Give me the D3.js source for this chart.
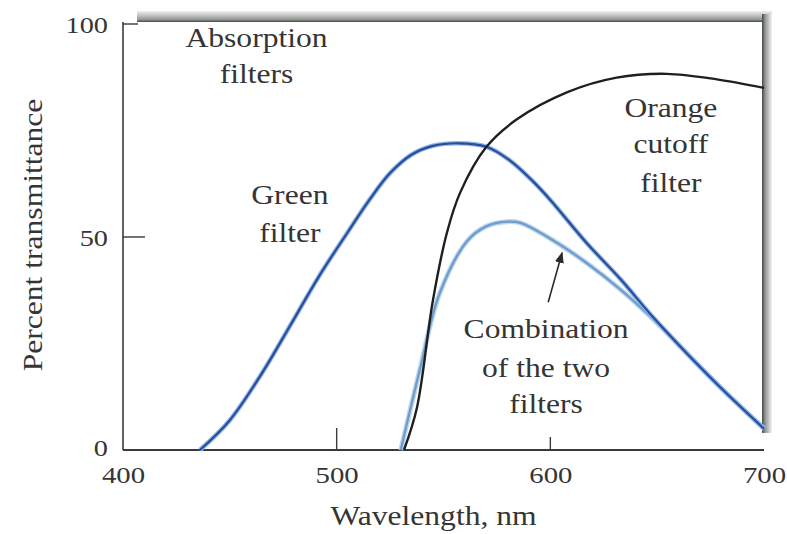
<!DOCTYPE html>
<html>
<head>
<meta charset="utf-8">
<script src="https://cdn.jsdelivr.net/npm/d3@7"></script>
<style>
  html, body { margin: 0; padding: 0; background: #fff; }
  svg { display: block; }
  text { font-family: "Liberation Serif", "Times New Roman", serif; fill: #353535; }
</style>
</head>
<body>
<svg id="chart" width="787" height="534"></svg>
<script>
// ---- data ----
const greenWavelength = [436, 450, 465, 478, 492, 505, 515, 525, 535, 545, 557, 570, 581, 592, 600, 617, 633, 648, 661, 680, 700];
const greenT          = [0,   7,   18,  29,  41,  51,  58.5,65,  69.3,71.4,72,  71.2,68,  63,  58.7,48.6,40,  31.2,24.2,14.5,5];

const orangeWavelength = [531.5, 537.6, 545, 551.6, 557.7, 570, 584, 608, 631, 654.5, 678, 700];
const orangeT          = [0,     10,    35,  51,    60.3,  71.1,77.5,84,  87.4, 88.3, 87, 85];

const comboWavelength = [530, 539, 548, 561, 570, 580, 586, 601, 617, 633, 645, 652, 661, 680, 700];
const comboT          = [0,   19,  36.5,49,  52.5,53.6,53.3,49.3,43.9,37.6,32.2,28.8,24.2,14.5,5];

const xTickValues = [400, 500, 600, 700];
const yTickValues = [0, 50, 100];
const xLabel = "Wavelength, nm";
const yLabel = "Percent transmittance";

// annotation texts, anchored in data units
const annotations = [
  { lines: ["Absorption", "filters"], wl: 462.5, t: [94.6, 86.2] },
  { lines: ["Green", "filter"], wl: 478.1, t: [57.7, 48.8] },
  { lines: ["Orange", "cutoff", "filter"], wl: 656.4, t: [78.2, 69.7, 60.6] },
  { lines: ["Combination", "of the two", "filters"], wl: 598, t: [26.3, 17.1, 8.7] }
];
const arrowFrom = [599, 34.7];
const arrowTo = [605.5, 46.3];

// ---- layout ----
const svg = d3.select("#chart");
const x = d3.scaleLinear().domain([400, 700]).range([123, 764]);
const y = d3.scaleLinear().domain([0, 100]).range([450, 24]);
const SX = 1.17;

const defs = svg.append("defs");
const gTop = defs.append("linearGradient").attr("id", "gTop").attr("x1", 0).attr("y1", 0).attr("x2", 0).attr("y2", 1);
gTop.append("stop").attr("offset", 0).attr("stop-color", "#f0f0f0");
gTop.append("stop").attr("offset", 0.4).attr("stop-color", "#c2c6c2");
gTop.append("stop").attr("offset", 0.8).attr("stop-color", "#8f938f");
gTop.append("stop").attr("offset", 1).attr("stop-color", "#444");
const gRight = defs.append("linearGradient").attr("id", "gRight").attr("x1", 0).attr("y1", 0).attr("x2", 1).attr("y2", 0);
gRight.append("stop").attr("offset", 0).attr("stop-color", "#444");
gRight.append("stop").attr("offset", 0.3).attr("stop-color", "#8f938f");
gRight.append("stop").attr("offset", 0.7).attr("stop-color", "#c8ccc8");
gRight.append("stop").attr("offset", 1).attr("stop-color", "#f4f4f4");
defs.append("marker").attr("id", "arrow").attr("viewBox", "0 0 10 10")
  .attr("refX", 9).attr("refY", 5).attr("markerWidth", 7).attr("markerHeight", 7)
  .attr("orient", "auto")
  .append("path").attr("d", "M0,1 L10,5 L0,9 Z").attr("fill", "#2a2a2a");

// shaded frame (top and right)
svg.append("rect").attr("x", 137).attr("y", 11).attr("width", 635).attr("height", 11).attr("fill", "url(#gTop)");
svg.append("rect").attr("x", 762).attr("y", 14).attr("width", 10).attr("height", y(4)-14).attr("fill", "url(#gRight)");

// axes lines
svg.append("line").attr("x1", x(400)).attr("x2", x(400)).attr("y1", y(100)-2).attr("y2", y(0))
  .attr("stroke", "#3a3a3a").attr("stroke-width", 1.6);
svg.append("line").attr("x1", x(400)).attr("x2", x(700)).attr("y1", y(0)).attr("y2", y(0))
  .attr("stroke", "#3a3a3a").attr("stroke-width", 1.8);

// inward ticks
const yTickLen = {50: 22, 100: 15};
svg.selectAll(".ytk").data([50, 100]).join("line")
  .attr("x1", x(400)).attr("x2", d => x(400) + yTickLen[d])
  .attr("y1", d => y(d)).attr("y2", d => y(d))
  .attr("stroke", "#3a3a3a").attr("stroke-width", 1.4);
const xTickLen = {500: 22, 600: 13};
svg.selectAll(".xtk").data([500, 600]).join("line")
  .attr("x1", d => x(d)).attr("x2", d => x(d))
  .attr("y1", y(0)).attr("y2", d => y(0) - xTickLen[d])
  .attr("stroke", "#3a3a3a").attr("stroke-width", 1.4);

// tick labels via d3 axes
const xAxis = svg.append("g").attr("transform", `translate(0,${y(0)})`)
  .call(d3.axisBottom(x).tickValues(xTickValues).tickSize(0).tickPadding(16).tickFormat(d3.format("d")));
const yAxis = svg.append("g").attr("transform", `translate(${x(400)},0)`)
  .call(d3.axisLeft(y).tickValues(yTickValues).tickSize(0).tickPadding(15).tickFormat(d3.format("d")));
[xAxis, yAxis].forEach(a => {
  a.select(".domain").remove();
  a.selectAll("text").attr("font-size", 24).attr("fill", "#353535")
    .style("font-family", '"Liberation Serif", serif');
});
xAxis.selectAll("text").attr("dy", "0.72em").attr("transform", "scale(1.2,1)");
yAxis.selectAll("text").attr("dy", "0.34em")
  .attr("transform", "translate(-15,0) scale(1.18,1) translate(15,0)");
yAxis.selectAll(".tick").filter(d => d === 0).select("text").attr("dy", "0.22em");

// axis titles
svg.append("text").attr("font-size", 27).attr("text-anchor", "middle")
  .attr("transform", `translate(${(x(400)+x(700))/2 - 10},525) scale(${SX},1)`)
  .text(xLabel);
svg.append("text").attr("font-size", 27).attr("text-anchor", "middle")
  .attr("transform", `translate(42,235) rotate(-90) scale(${SX},1)`)
  .text(yLabel);

// curves
const line = d3.line().x(d => x(d[0])).y(d => y(d[1])).curve(d3.curveCatmullRom.alpha(0.5));
const greenData = d3.zip(greenWavelength, greenT);
const orangeData = d3.zip(orangeWavelength, orangeT);
const comboData = d3.zip(comboWavelength, comboT);

svg.append("path").datum(comboData).attr("d", line).attr("fill", "none")
  .attr("stroke", "#bcd6f0").attr("stroke-width", 5);
svg.append("path").datum(comboData).attr("d", line).attr("fill", "none")
  .attr("stroke", "#6f9cc8").attr("stroke-width", 2.3);

svg.append("path").datum(greenData).attr("d", line).attr("fill", "none")
  .attr("stroke", "#8db6ea").attr("stroke-width", 4.6);
svg.append("path").datum(greenData).attr("d", line).attr("fill", "none")
  .attr("stroke", "#2c4c98").attr("stroke-width", 2.2);

svg.append("path").datum(orangeData).attr("d", line).attr("fill", "none")
  .attr("stroke", "#1f1f1f").attr("stroke-width", 2.4);

// annotation texts
annotations.forEach(a => {
  a.lines.forEach((s, i) => {
    svg.append("text").attr("font-size", 27).attr("text-anchor", "middle")
      .attr("transform", `translate(${x(a.wl)},${y(a.t[i])}) scale(${SX},1)`)
      .text(s);
  });
});

// arrow
svg.append("line")
  .attr("x1", x(arrowFrom[0])).attr("y1", y(arrowFrom[1]))
  .attr("x2", x(arrowTo[0])).attr("y2", y(arrowTo[1]))
  .attr("stroke", "#2a2a2a").attr("stroke-width", 1.6)
  .attr("marker-end", "url(#arrow)");
</script>
</body>
</html>
